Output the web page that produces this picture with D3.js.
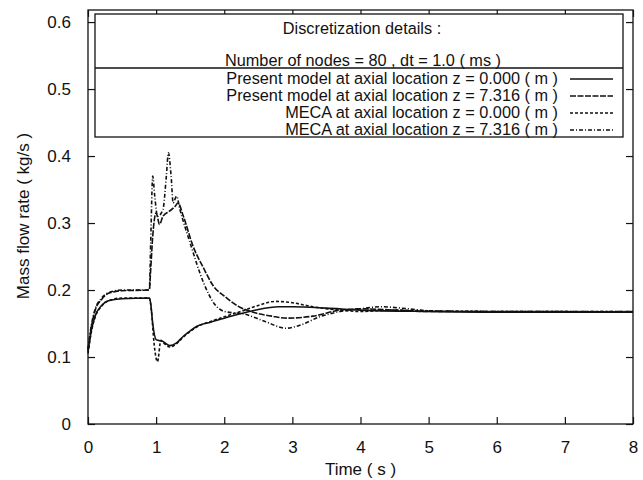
<!DOCTYPE html>
<html>
<head>
<meta charset="utf-8">
<script src="https://cdn.jsdelivr.net/npm/d3@7"></script>
<style>
  body { margin: 0; background: #fff; }
  text { font-family: "Liberation Sans", Arial, sans-serif; fill: #111; }
</style>
</head>
<body>
<svg id="chart" width="643" height="480"></svg>
<script>

// data
var presentZ0 = [
  [0,0.108],[0.05,0.14],[0.1,0.16],[0.2,0.177],[0.3,0.184],[0.5,0.187],[0.9,0.188],
  [0.92,0.18],[0.95,0.15],[1.0,0.126],[1.1,0.123],[1.2,0.117],[1.3,0.121],[1.4,0.131],
  [1.5,0.139],[1.6,0.146],[1.8,0.152],[2.0,0.158],[2.3,0.166],[2.5,0.171],[2.8,0.175],
  [3.0,0.175],[3.5,0.173],[4.0,0.17],[5,0.168],[6,0.167],[8,0.167]
];
var presentZ7 = [
  [0,0.11],[0.05,0.145],[0.1,0.168],[0.2,0.186],[0.3,0.195],[0.5,0.199],[0.9,0.2],
  [0.92,0.23],[0.95,0.28],[1.0,0.315],[1.05,0.298],[1.1,0.31],[1.2,0.318],[1.28,0.325],
  [1.32,0.33],[1.4,0.31],[1.54,0.266],[1.7,0.232],[1.84,0.206],[2.0,0.191],[2.2,0.176],
  [2.45,0.166],[2.7,0.161],[2.92,0.158],[3.3,0.161],[3.7,0.17],[4.0,0.172],[4.5,0.17],
  [5,0.168],[6,0.168],[8,0.167]
];
var mecaZ0 = [
  [0,0.105],[0.05,0.138],[0.1,0.158],[0.2,0.176],[0.3,0.184],[0.5,0.188],[0.9,0.188],
  [0.93,0.17],[0.97,0.12],[1.02,0.093],[1.07,0.125],[1.12,0.12],[1.2,0.115],[1.3,0.12],
  [1.4,0.13],[1.5,0.138],[1.6,0.145],[1.8,0.153],[2.0,0.16],[2.3,0.17],[2.5,0.177],
  [2.75,0.183],[3.0,0.181],[3.3,0.175],[3.7,0.17],[4.0,0.168],[4.5,0.17],[5,0.169],
  [6,0.168],[8,0.168]
];
var mecaZ7 = [
  [0,0.112],[0.05,0.148],[0.1,0.17],[0.2,0.188],[0.3,0.196],[0.5,0.2],[0.9,0.2],
  [0.92,0.27],[0.95,0.37],[0.98,0.34],[1.02,0.31],[1.1,0.32],[1.15,0.37],[1.18,0.405],
  [1.22,0.37],[1.25,0.33],[1.3,0.34],[1.35,0.32],[1.5,0.27],[1.7,0.21],[1.85,0.18],
  [2.0,0.168],[2.3,0.164],[2.6,0.153],[2.9,0.143],[3.1,0.147],[3.4,0.16],[3.7,0.168],
  [4.0,0.172],[4.3,0.175],[4.7,0.172],[5,0.169],[6,0.168],[8,0.168]
];

var seriesNames = [
  "Present model at axial location z = 0.000 ( m )",
  "Present model at axial location z = 7.316 ( m )",
  "MECA at axial location z = 0.000 ( m )",
  "MECA at axial location z = 7.316 ( m )"
];
var seriesData = [presentZ0, presentZ7, mecaZ0, mecaZ7];
var dashes = [null, "6,1.5", "3,2", "4,2,1,2"];

var xTicks = [0,1,2,3,4,5,6,7,8];
var yTicks = [0,0.1,0.2,0.3,0.4,0.5,0.6];

var margin = {top: 10, right: 10, bottom: 56, left: 88},
    width = 633 - margin.left,
    height = 424 - margin.top;

var svg = d3.select("#chart")
  .append("g")
    .attr("transform", "translate(" + margin.left + "," + margin.top + ")");

var x = d3.scaleLinear().domain([0, 8]).range([0, width]);
var y = d3.scaleLinear().domain([0, 0.618]).range([height, 0]);

// frame
svg.append("rect")
    .attr("width", width).attr("height", height)
    .attr("fill", "none").attr("stroke", "#111").attr("stroke-width", 1.3);

// ticks on all sides, pointing in
function styleAxis(g) {
  g.select(".domain").remove();
  g.selectAll("line").attr("stroke", "#111").attr("stroke-width", 1.2);
  g.selectAll("text").style("font-size", "17px").attr("fill", "#111");
}
svg.append("g")
    .attr("transform", "translate(0," + height + ")")
    .call(d3.axisBottom(x).tickValues(xTicks).tickSize(-7).tickPadding(17).tickFormat(d3.format("d")))
    .call(styleAxis);
svg.append("g")
    .call(d3.axisTop(x).tickValues(xTicks).tickSize(-7).tickFormat(""))
    .call(styleAxis);
svg.append("g")
    .call(d3.axisLeft(y).tickValues(yTicks).tickSize(-7).tickPadding(17).tickFormat(function(d){ return d === 0 ? "0" : d3.format(".1f")(d); }))
    .call(styleAxis);
svg.append("g")
    .attr("transform", "translate(" + width + ",0)")
    .call(d3.axisRight(y).tickValues(yTicks).tickSize(-7).tickFormat(""))
    .call(styleAxis);

// the lines
var line = d3.line()
    .x(function(d) { return x(d[0]); })
    .y(function(d) { return y(d[1]); })
    .curve(d3.curveMonotoneX);

seriesData.forEach(function(s, i) {
  svg.append("path")
      .datum(s)
      .attr("fill", "none")
      .attr("stroke", "#111")
      .attr("stroke-width", 1.6)
      .attr("stroke-dasharray", dashes[i])
      .attr("d", line);
});

// legend box
var lx = 95 - margin.left, ly = 14 - margin.top, lw = 528, lh = 123;
var legend = svg.append("g");
legend.append("rect")
    .attr("x", lx).attr("y", ly).attr("width", lw).attr("height", lh)
    .attr("fill", "#fff").attr("stroke", "#111").attr("stroke-width", 1.3);
legend.append("line")
    .attr("x1", lx).attr("x2", lx + lw).attr("y1", 68 - margin.top).attr("y2", 68 - margin.top)
    .attr("stroke", "#111").attr("stroke-width", 1.3);
legend.append("text")
    .attr("x", 362 - margin.left).attr("y", 34 - margin.top)
    .attr("text-anchor", "middle").style("font-size", "16.3px")
    .text("Discretization details :");
legend.append("text")
    .attr("x", 363 - margin.left).attr("y", 66 - margin.top)
    .attr("text-anchor", "middle").style("font-size", "16.3px")
    .text("Number of nodes = 80 , dt = 1.0 ( ms )");

seriesNames.forEach(function(name, i) {
  var yy = 84 + i * 17 - margin.top;
  legend.append("text")
      .attr("x", 558 - margin.left).attr("y", yy)
      .attr("text-anchor", "end").style("font-size", "16.3px")
      .text(name);
  legend.append("line")
      .attr("x1", 570 - margin.left).attr("x2", 613 - margin.left)
      .attr("y1", yy - 5).attr("y2", yy - 5)
      .attr("stroke", "#111").attr("stroke-width", 1.3)
      .attr("stroke-dasharray", dashes[i]);
});

// axis labels
svg.append("text")
    .attr("x", width / 2).attr("y", height + 51)
    .attr("text-anchor", "middle").style("font-size", "17px")
    .text("Time ( s )");
svg.append("text")
    .attr("transform", "rotate(-90)")
    .attr("x", -(216 - margin.top)).attr("y", -59)
    .attr("text-anchor", "middle").style("font-size", "17px")
    .text("Mass flow rate ( kg/s )");

</script>
</body>
</html>
